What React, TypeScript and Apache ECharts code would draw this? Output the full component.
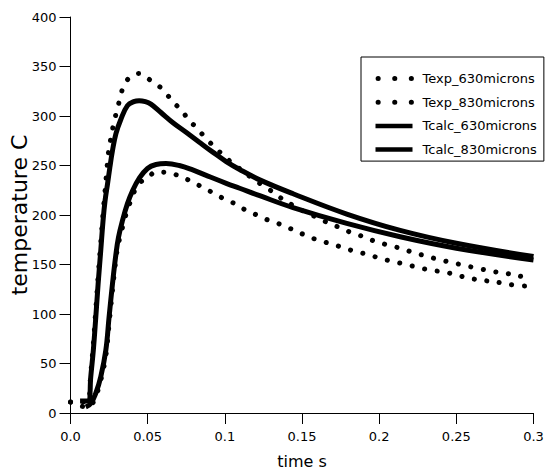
import React, { useEffect, useRef } from "react";
import * as echarts from "echarts";

// [time (s), temperature (C)]
const texp630: [number, number][] = [
  [0, 11], [0.011, 12], [0.0131, 40], [0.0148, 70], [0.0164, 105], [0.018, 140],
  [0.0196, 172], [0.0211, 202], [0.0224, 225], [0.0235, 245], [0.0246, 263],
  [0.0261, 277], [0.0278, 291], [0.0298, 304], [0.032, 317], [0.0343, 329.5],
  [0.0387, 339.5], [0.0445, 343], [0.051, 337], [0.0571, 330.5], [0.0623, 322],
  [0.0673, 313], [0.0723, 305], [0.0766, 296], [0.0818, 288], [0.0868, 279],
  [0.0938, 268], [0.0992, 260], [0.1052, 252], [0.1111, 245], [0.117, 238],
  [0.123, 231.5], [0.129, 225.5], [0.1351, 218.5], [0.1388, 214.5], [0.145, 209],
  [0.152, 203], [0.159, 198], [0.1663, 192.5], [0.1741, 187.5], [0.1815, 182.5],
  [0.189, 178.5], [0.1971, 173.5], [0.206, 169.5], [0.2147, 166], [0.2222, 162],
  [0.2305, 158.5], [0.2385, 155], [0.2472, 152], [0.2552, 149], [0.2645, 146],
  [0.2736, 143], [0.2825, 141], [0.2905, 138.5], [0.2988, 135.5],
];

const texp830: [number, number][] = [
  [0, 11], [0.011, 6], [0.0131, 7], [0.0164, 17], [0.0196, 33], [0.0229, 58],
  [0.025, 90], [0.0272, 124], [0.029, 150], [0.0305, 167], [0.0326, 181],
  [0.0348, 194], [0.037, 206], [0.0398, 217], [0.042, 226], [0.0445, 232],
  [0.0499, 238], [0.056, 243.5], [0.064, 242.5], [0.0712, 239], [0.0781, 234],
  [0.085, 228.5], [0.0922, 222.5], [0.1005, 215.5], [0.1078, 210.5],
  [0.1139, 204.5], [0.1215, 199.5], [0.1286, 194.5], [0.1362, 190.5],
  [0.1436, 185.5], [0.1523, 179.5], [0.1605, 174.5], [0.1685, 171],
  [0.1767, 167], [0.1848, 163], [0.193, 160], [0.201, 156], [0.2092, 153],
  [0.2175, 150], [0.2266, 146.5], [0.2346, 144], [0.2435, 142], [0.2521, 138.5],
  [0.2606, 135.5], [0.2695, 133.5], [0.279, 131.5], [0.2884, 129], [0.2981, 128],
];

const tcalc630: [number, number][] = [
  [0.0062, 12], [0.0118, 12.5], [0.0131, 36], [0.0148, 63.5], [0.0164, 97],
  [0.0179, 130.5], [0.0196, 164], [0.0211, 194.5], [0.0224, 214.5],
  [0.024, 231.5], [0.0255, 248], [0.0272, 265], [0.0294, 282], [0.0326, 296.5],
  [0.0369, 310.5], [0.041, 314.5], [0.0445, 315.5], [0.0485, 314.5],
  [0.0521, 312], [0.0586, 303.5], [0.0662, 293.5], [0.0749, 283.5],
  [0.0835, 273.5], [0.0922, 263.5], [0.1009, 254], [0.1096, 246], [0.1226, 235.5],
  [0.1442, 221.5], [0.179, 201], [0.2136, 184.5], [0.25, 171.5], [0.3, 158],
];

const tcalc830: [number, number][] = [
  [0.0099, 6], [0.0131, 9.5], [0.0164, 20], [0.0196, 36.5], [0.0229, 63.5],
  [0.025, 97], [0.0272, 130.5], [0.0294, 160], [0.0311, 177.5], [0.0337, 194.5],
  [0.0369, 211.5], [0.0402, 224.5], [0.0445, 237], [0.0499, 247], [0.0554, 251],
  [0.0619, 252], [0.0705, 250], [0.0792, 245.5], [0.0879, 240], [0.1009, 232],
  [0.1096, 227], [0.1226, 219.5], [0.1442, 207.5], [0.179, 191.5], [0.2136, 178],
  [0.25, 166.5], [0.3, 154.5],
];

const seriesNames = [
  "Texp_630microns",
  "Texp_830microns",
  "Tcalc_630microns",
  "Tcalc_830microns",
];

const FONT = "DejaVu Sans";

const dotted = {
  color: "#000",
  width: 5,
  type: [0.1, 12.6] as number[],
  cap: "round" as const,
};

const solid = { color: "#000", width: 5, type: "solid" as const };

export default function App() {
  const ref = useRef<HTMLDivElement>(null);

  useEffect(() => {
    if (!ref.current) return;
    const chart = echarts.init(ref.current, undefined, { renderer: "svg" });

    const lineSeries = (name: string, data: [number, number][], style: any) => ({
      name,
      type: "line",
      data,
      symbol: "none",
      showSymbol: false,
      smooth: 0.4,
      lineStyle: style,
      itemStyle: { color: "#000" },
      emphasis: { disabled: true },
      silent: true,
    });

    const legendDots = {
      color: "#000",
      width: 5,
      type: [0.1, 16.5],
      dashOffset: 13.5,
      cap: "round",
    };
    const legendSolid = { color: "#000", width: 4.5, type: "solid" };
    const noMarker = { opacity: 0 };

    chart.setOption({
      animation: false,
      backgroundColor: "#fff",
      grid: {
        left: 70.5,
        top: 17,
        right: 20.5,
        bottom: 57,
        containLabel: false,
        outerBoundsMode: "none",
      },
      legend: {
        orient: "vertical",
        left: 361,
        top: 57,
        padding: [14, 7, 4, 12],
        itemWidth: 37,
        itemHeight: 15,
        itemGap: 8.7,
        borderColor: "#000",
        borderWidth: 1,
        selectedMode: false,
        textStyle: {
          color: "#000",
          fontFamily: FONT,
          fontSize: 13,
          lineHeight: 15,
          padding: [0, 0, 0, 5],
        },
        data: [
          { name: seriesNames[0], lineStyle: legendDots, itemStyle: noMarker },
          { name: seriesNames[1], lineStyle: legendDots, itemStyle: noMarker },
          { name: seriesNames[2], lineStyle: legendSolid, itemStyle: noMarker },
          { name: seriesNames[3], lineStyle: legendSolid, itemStyle: noMarker },
        ],
      },
      xAxis: {
        type: "value",
        min: 0,
        max: 0.3,
        interval: 0.05,
        name: "time s",
        nameLocation: "middle",
        nameGap: 40,
        nameMoveOverlap: false,
        nameTextStyle: { color: "#000", fontFamily: FONT, fontSize: 16 },
        axisLine: { show: true, lineStyle: { color: "#000", width: 1 } },
        axisTick: { show: true, length: 11, lineStyle: { color: "#000" } },
        axisLabel: {
          color: "#000",
          fontFamily: FONT,
          fontSize: 13,
          margin: 17,
          formatter: (v: number) => (v === 0 ? "0.0" : String(parseFloat(v.toFixed(2)))),
        },
        splitLine: { show: false },
      },
      yAxis: {
        type: "value",
        min: 0,
        max: 400,
        interval: 50,
        name: "temperature C",
        nameLocation: "middle",
        nameGap: 40,
        nameMoveOverlap: false,
        nameTextStyle: { color: "#000", fontFamily: FONT, fontSize: 22 },
        axisLine: { show: true, lineStyle: { color: "#000", width: 1 } },
        axisTick: { show: true, length: 11, lineStyle: { color: "#000" } },
        axisLabel: { color: "#000", fontFamily: FONT, fontSize: 13, margin: 14 },
        splitLine: { show: false },
      },
      series: [
        lineSeries(seriesNames[0], texp630, dotted),
        lineSeries(seriesNames[1], texp830, dotted),
        lineSeries(seriesNames[2], tcalc630, solid),
        lineSeries(seriesNames[3], tcalc830, solid),
      ],
    });

    return () => chart.dispose();
  }, []);

  return (
    <div
      ref={ref}
      style={{ position: "absolute", left: 0, top: 0, width: 554, height: 470 }}
    />
  );
}
